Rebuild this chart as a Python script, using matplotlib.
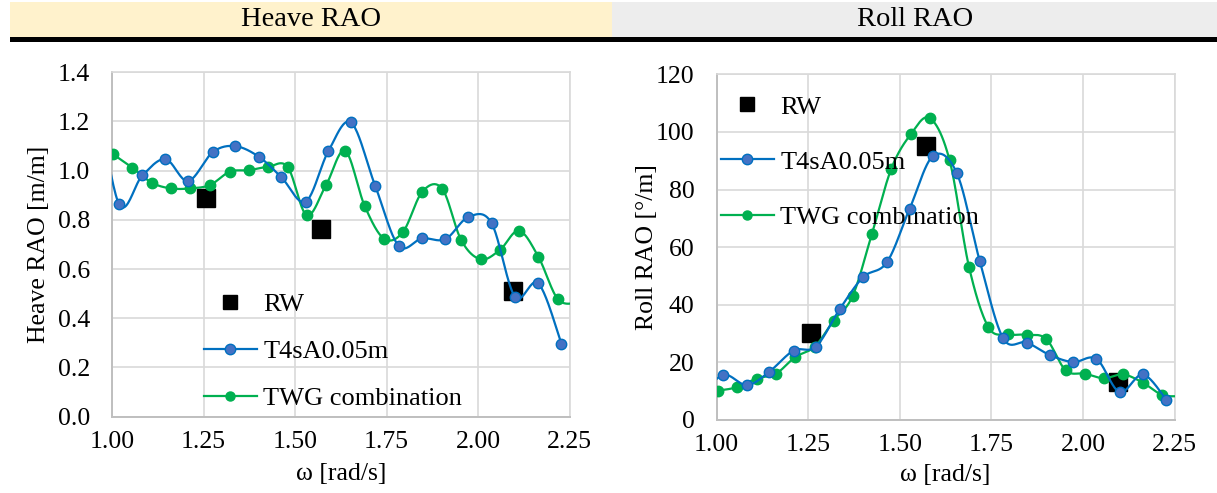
import numpy as np
import matplotlib
matplotlib.use("Agg")
import matplotlib.pyplot as plt
from matplotlib.lines import Line2D
from matplotlib.patches import Rectangle

plt.rcParams['font.family'] = ['Liberation Serif', 'DejaVu Serif']

# ---------------- data ----------------
# Heave RAO
heave_rw_w = [1.2566, 1.5708, 2.0944]
heave_rw_v = [0.89, 0.762, 0.511]

heave_t4_w = [0.955, 1.019, 1.083, 1.146, 1.208, 1.275, 1.336, 1.401, 1.463, 1.529, 1.591,
              1.653, 1.719, 1.783, 1.847, 1.911, 1.974, 2.037, 2.101, 2.165, 2.228]
heave_t4_v = [1.35, 0.865, 0.981, 1.047, 0.958, 1.075, 1.100, 1.057, 0.973, 0.874, 1.079,
              1.196, 0.939, 0.695, 0.725, 0.722, 0.812, 0.787, 0.488, 0.542, 0.297]

heave_twg_w = [1.002, 1.056, 1.109, 1.161, 1.214, 1.268, 1.322, 1.374, 1.427, 1.480, 1.532,
               1.585, 1.637, 1.690, 1.743, 1.795, 1.848, 1.902, 1.954, 2.007, 2.060, 2.112,
               2.165, 2.218, 2.270]
heave_twg_v = [1.068, 1.012, 0.951, 0.928, 0.928, 0.942, 0.996, 1.002, 1.016, 1.015, 0.819,
               0.942, 1.081, 0.858, 0.724, 0.751, 0.915, 0.927, 0.718, 0.640, 0.678, 0.756,
               0.650, 0.478, 0.462]

# Roll RAO
roll_rw_w = [1.2566, 1.5708, 2.0944]
roll_rw_v = [30.1, 95.1, 13.3]

roll_t4_w = [0.955, 1.018, 1.083, 1.144, 1.210, 1.271, 1.337, 1.400, 1.465, 1.527, 1.591,
             1.656, 1.718, 1.782, 1.846, 1.909, 1.973, 2.037, 2.100, 2.164, 2.228]
roll_t4_v = [8.0, 15.65, 12.1, 16.8, 24.1, 25.5, 38.7, 49.6, 54.8, 73.4, 91.7,
             85.6, 55.3, 28.4, 26.9, 22.6, 20.1, 21.2, 9.7, 15.8, 7.0]

roll_twg_w = [1.004, 1.056, 1.109, 1.162, 1.214, 1.268, 1.319, 1.371, 1.424, 1.477, 1.530,
              1.582, 1.636, 1.689, 1.742, 1.795, 1.847, 1.900, 1.953, 2.005, 2.057, 2.110,
              2.163, 2.217, 2.270]
roll_twg_v = [10.2, 11.4, 14.4, 16.1, 21.8, 25.5, 34.5, 43.0, 64.7, 87.3, 99.2,
              104.8, 90.1, 53.1, 32.2, 29.7, 29.6, 28.1, 17.2, 16.1, 14.5, 15.8,
              13.0, 8.7, 8.3]

x_ticks = [1.00, 1.25, 1.50, 1.75, 2.00, 2.25]
heave_yticks = [0.0, 0.2, 0.4, 0.6, 0.8, 1.0, 1.2, 1.4]
roll_yticks = [0, 20, 40, 60, 80, 100, 120]

series_names = ["RW", "T4sA0.05m", "TWG combination"]
panel_titles = ["Heave RAO", "Roll RAO"]
y_labels = ["Heave RAO [m/m]", "Roll RAO [°/m]"]
x_label = "ω [rad/s]"

BLUE_LINE = "#0070C0"
BLUE_MARK = "#4472C4"
GREEN = "#00B050"
GRID = "#D9D9D9"
AXIS = "#BFBFBF"


def smooth(x, y, n=24):
    """Excel-like smoothed line (Catmull-Rom style Bezier segments)."""
    p = np.column_stack([x, y]).astype(float)
    m = len(p)
    out = [p[0]]
    t = np.linspace(0, 1, n)[1:]
    for i in range(m - 1):
        p0 = p[i - 1] if i > 0 else p[i]
        p1 = p[i]
        p2 = p[i + 1]
        p3 = p[i + 2] if i + 2 < m else p[i + 1]
        b1 = p1 + (p2 - p0) / 6.0
        b2 = p2 - (p3 - p1) / 6.0
        seg = ((1 - t) ** 3)[:, None] * p1 + (3 * (1 - t) ** 2 * t)[:, None] * b1 \
            + (3 * (1 - t) * t ** 2)[:, None] * b2 + (t ** 3)[:, None] * p2
        out.extend(seg)
    out = np.array(out)
    return out[:, 0], out[:, 1]


W, H = 1217, 493
fig = plt.figure(figsize=(W / 100, H / 100), dpi=100)

# header bands
fig.patches.append(Rectangle((10 / W, 1 - 37 / H), 602 / W, 35 / H, transform=fig.transFigure,
                             facecolor="#FFF2CC", edgecolor="none", zorder=0))
fig.patches.append(Rectangle((612 / W, 1 - 37 / H), 605 / W, 35 / H, transform=fig.transFigure,
                             facecolor="#EDEDED", edgecolor="none", zorder=0))
fig.patches.append(Rectangle((10 / W, 1 - 42 / H), 1207 / W, 5 / H, transform=fig.transFigure,
                             facecolor="black", edgecolor="none", zorder=1))
fig.text(311 / W, 1 - 20 / H, panel_titles[0], ha="center", va="center", fontsize=20.5)
fig.text(915 / W, 1 - 20 / H, panel_titles[1], ha="center", va="center", fontsize=20.5)

axL = fig.add_axes([112 / W, 1 - 416.7 / H, 457.5 / W, 344.4 / H])
axR = fig.add_axes([716.7 / W, 1 - 420 / H, 457.8 / W, 345.7 / H])


def draw(ax, rw_w, rw_v, t4_w, t4_v, twg_w, twg_v, yticks, ylim, fmt_y, ylabel,
         ylab_x, xlab_y, leg_anchor, leg_spacing):
    sx, sy = smooth(twg_w, twg_v)
    ax.plot(sx, sy, color=GREEN, lw=1.6, zorder=3, clip_on=True)
    ax.plot(twg_w, twg_v, ls="none", marker="o", ms=7.5, mfc=GREEN, mec=GREEN, zorder=4)
    sx, sy = smooth(t4_w, t4_v)
    ax.plot(sx, sy, color=BLUE_LINE, lw=1.6, zorder=5)
    ax.plot(t4_w, t4_v, ls="none", marker="o", ms=7.5, mfc=BLUE_MARK, mec=BLUE_LINE,
            mew=1.0, zorder=6)
    ax.plot(rw_w, rw_v, ls="none", marker="s", ms=12.5, color="black", zorder=2)

    ax.set_xlim(1.0, 2.25)
    ax.set_ylim(*ylim)
    ax.set_xticks(x_ticks)
    ax.set_xticklabels([f"{v:.2f}" for v in x_ticks])
    ax.set_yticks(yticks)
    ax.set_yticklabels([fmt_y(v) for v in yticks])
    ax.grid(True, color=GRID, lw=1.2, zorder=0)
    ax.set_axisbelow(True)
    for s in ["left", "bottom"]:
        ax.spines[s].set_color(AXIS)
        ax.spines[s].set_linewidth(1.4)
    for s in ["top", "right"]:
        ax.spines[s].set_color(GRID)
        ax.spines[s].set_linewidth(1.2)
    ax.tick_params(axis="both", length=0, labelsize=18.5)
    ax.tick_params(axis="y", pad=16)
    ax.tick_params(axis="x", pad=10)
    ax.set_ylabel(ylabel, fontsize=18.5)
    ax.set_xlabel(x_label, fontsize=18.5)
    ax.yaxis.set_label_coords(ylab_x, 0.5)
    ax.xaxis.set_label_coords(0.5, xlab_y)

    handles = [
        Line2D([], [], ls="none", marker="s", ms=10, color="black"),
        Line2D([], [], color=BLUE_LINE, lw=1.6, marker="o", ms=7.5, mfc=BLUE_MARK, mec=BLUE_LINE),
        Line2D([], [], color=GREEN, lw=1.6, marker="o", ms=6.5, mfc=GREEN, mec=GREEN),
    ]
    ax.legend(handles, series_names, loc="upper left", bbox_to_anchor=leg_anchor,
              frameon=False, fontsize=19, handlelength=2.0, handletextpad=0.25,
              borderpad=0, borderaxespad=0, labelspacing=leg_spacing)


draw(axL, heave_rw_w, heave_rw_v, heave_t4_w, heave_t4_v, heave_twg_w, heave_twg_v,
     heave_yticks, (0, 1.4), lambda v: f"{v:.1f}", y_labels[0], -0.135, -0.135,
     (0.201, 0.360), 0.89)
draw(axR, roll_rw_w, roll_rw_v, roll_t4_w, roll_t4_v, roll_twg_w, roll_twg_v,
     roll_yticks, (0, 120), lambda v: f"{v:d}", y_labels[1], -0.128, -0.127,
     (0.0094, 0.940), 1.2)

fig.savefig("out.png", dpi=100)
